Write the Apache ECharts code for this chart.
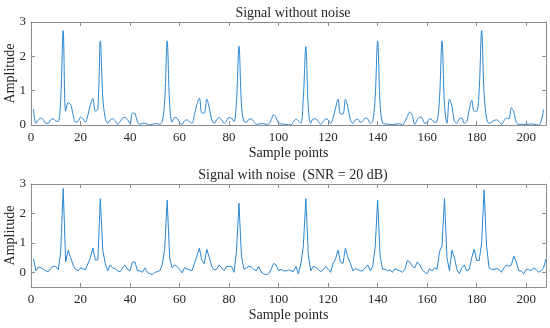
<!DOCTYPE html>
<html><head><meta charset="utf-8">
<script src="https://cdn.jsdelivr.net/npm/echarts@6/dist/echarts.min.js"></script>
<style>html,body{margin:0;padding:0;background:#fff}#c{width:550px;height:328px}</style>
</head><body><div id="c"></div>
<script>
// sample index 1..208
var samples = [];
for (var i = 1; i <= 208; i++) samples.push(i);

var cleanSignal = [
0.47,0.05,0.15,0.2,0.15,0.05,0.05,0.15,0.18,0.12,
0.1,0.75,2.75,0.4,0.65,0.6,0.3,0.08,0.1,0.23,
0.18,0.08,0.3,0.6,0.77,0.4,0.47,2.45,0.8,0.2,
0.05,0.15,0.18,0.12,0.03,0.1,0.2,0.22,0.15,0.05,
0.35,0.33,0.1,0.02,0.05,0.05,0.02,0.0,0.02,0.04,
0.04,0.02,0.1,0.7,2.45,0.6,0.08,0.22,0.2,0.08,
0.02,0.12,0.15,0.1,0.05,0.3,0.6,0.78,0.35,0.35,
0.75,0.5,0.15,0.05,0.15,0.22,0.15,0.05,0.12,0.22,
0.2,0.1,0.7,2.3,0.6,0.1,0.08,0.16,0.18,0.1,
0.02,0.03,0.04,0.04,0.02,0.03,0.15,0.3,0.22,0.05,
0.03,0.02,0.02,0.01,0.0,0.1,0.17,0.12,0.05,0.8,
2.28,0.5,0.05,0.18,0.18,0.1,0.02,0.1,0.18,0.15,
0.05,0.2,0.5,0.75,0.32,0.32,0.75,0.5,0.15,0.05,
0.15,0.17,0.08,0.1,0.2,0.18,0.05,0.1,0.8,2.45,
0.6,0.05,0.03,0.02,0.02,0.01,0.02,0.03,0.04,0.0,
0.1,0.25,0.38,0.28,0.02,0.15,0.23,0.2,0.05,0.08,
0.18,0.15,0.08,0.1,0.8,2.45,0.6,0.05,0.75,0.55,
0.12,0.05,0.18,0.2,0.05,0.1,0.45,0.72,0.4,0.4,
1.0,2.75,0.9,0.2,0.05,0.08,0.13,0.15,0.1,0.02,
0.12,0.2,0.18,0.5,0.38,0.08,0.02,0.02,0.02,0.02,
0.02,0.03,0.02,0.01,0.0,0.1,0.45
];

var noisySignal = [
0.45,0.05,0.18,0.15,0.1,0.05,0.02,0.15,0.2,0.2,
0.08,0.7,2.85,0.35,0.75,0.5,0.25,0.1,0.05,0.15,
0.12,0.08,0.3,0.5,0.82,0.42,0.42,2.5,0.75,0.3,
0.05,0.25,0.15,0.12,0.05,0.02,0.15,0.25,0.1,0.05,
0.35,0.35,0.05,0.05,0.0,0.15,0.0,-0.05,-0.08,0.0,
0.02,0.05,0.25,0.8,2.45,0.5,0.15,0.25,0.2,0.1,
-0.02,0.15,0.12,0.08,0.05,0.3,0.55,0.82,0.4,0.3,
0.78,0.5,0.2,0.08,0.1,0.25,0.15,0.05,0.2,0.2,
0.2,0.0,0.7,2.35,0.55,0.1,0.15,0.2,0.18,0.1,
0.05,0.2,0.0,-0.05,-0.08,-0.05,0.1,0.3,0.25,0.05,
0.1,0.05,0.05,0.08,0.05,0.03,0.2,-0.05,0.3,0.9,
2.5,0.6,0.05,0.2,0.18,0.1,0.02,0.08,0.2,0.1,
0.0,0.3,0.45,0.75,0.35,0.3,0.82,0.5,0.3,0.05,
0.12,0.1,0.05,0.05,0.15,0.25,0.05,0.2,0.85,2.45,
0.55,0.1,0.1,0.05,0.08,0.0,0.12,0.08,0.05,0.0,
0.1,0.4,0.35,0.2,0.15,0.35,0.25,0.1,0.0,-0.05,
0.12,0.05,0.15,0.1,0.7,0.9,2.5,0.5,0.05,0.75,
0.5,0.1,-0.05,0.15,0.25,0.05,0.1,0.5,0.78,0.4,
0.4,1.0,2.8,0.9,0.15,0.1,0.1,0.12,0.1,0.0,
0.15,0.25,0.2,0.25,0.55,0.35,0.05,0.05,-0.05,0.1,
0.1,0.05,0.15,0.1,0.0,0.05,0.15,0.45
];

var xTicks = [0,20,40,60,80,100,120,140,160,180,200];
var yTicksTop = [0,1,2,3];
var yTicksBottom = [0,1,2,3];

var titles = ['Signal without noise', 'Signal with noise  (SNR = 20 dB)'];
var xName = 'Sample points';
var yName = 'Amplitude';

function pairs(v){ return samples.map(function(x,i){ return [x, v[i]]; }); }

var FONT = 'Liberation Serif';
var axisCol = '#8c8c8c';
var txtCol = '#262626';
var lineCol = '#2a86d0';

function xAx(grid, main){
  return {
    type:'value', gridIndex:grid, min:0, max:208, position: main ? 'bottom':'top',
    name: main ? xName : '', nameLocation:'middle', nameGap:21, nameMoveOverlap:false,
    nameTextStyle:{fontFamily:FONT,fontSize:14,color:txtCol},
    axisLine:{show:true,onZero:false,lineStyle:{color:axisCol,width:1}},
    axisTick:{show:true,inside:true,length:4,customValues:xTicks,lineStyle:{color:axisCol}},
    axisLabel:{show:main,customValues:xTicks,fontFamily:FONT,fontSize:13,color:txtCol,margin:6},
    splitLine:{show:false}
  };
}
function yAx(grid, main, min, ticks){
  return {
    type:'value', gridIndex:grid, min:min, max:3, position: main ? 'left':'right',
    name: main ? yName : '', nameLocation:'middle', nameGap:14, nameMoveOverlap:false,
    nameTextStyle:{fontFamily:FONT,fontSize:14,color:txtCol},
    axisLine:{show:true,onZero:false,lineStyle:{color:axisCol,width:1}},
    axisTick:{show:true,inside:true,length:4,customValues:ticks,lineStyle:{color:axisCol}},
    axisLabel:{show:main,customValues:ticks,fontFamily:FONT,fontSize:13,color:txtCol,margin:5},
    splitLine:{show:false}
  };
}

var chart = echarts.init(document.getElementById('c'), null, {renderer:'canvas'});
chart.setOption({
  animation:false,
  backgroundColor:'#fff',
  title:[
    {text:titles[0], left:288, top:1, textAlign:'center', textStyle:{fontFamily:FONT,fontSize:14,fontWeight:'normal',color:txtCol}},
    {text:titles[1], left:288, top:163, textAlign:'center', textStyle:{fontFamily:FONT,fontSize:14,fontWeight:'normal',color:txtCol}}
  ],
  grid:[
    {left:31, right:4, top:22, height:103, containLabel:false, outerBoundsMode:'none'},
    {left:31, right:4, top:184, height:103, containLabel:false, outerBoundsMode:'none'}
  ],
  xAxis:[ xAx(0,true), xAx(0,false), xAx(1,true), xAx(1,false) ],
  yAxis:[ yAx(0,true,0,yTicksTop), yAx(0,false,0,yTicksTop), yAx(1,true,-0.5,yTicksBottom), yAx(1,false,-0.5,yTicksBottom) ],
  series:[
    {type:'line', xAxisIndex:0, yAxisIndex:0, data:pairs(cleanSignal), smooth:0.35, showSymbol:false, lineStyle:{color:lineCol,width:1}},
    {type:'line', xAxisIndex:2, yAxisIndex:2, data:pairs(noisySignal), smooth:false, showSymbol:false, lineStyle:{color:lineCol,width:1}}
  ]
});
</script></body></html>
